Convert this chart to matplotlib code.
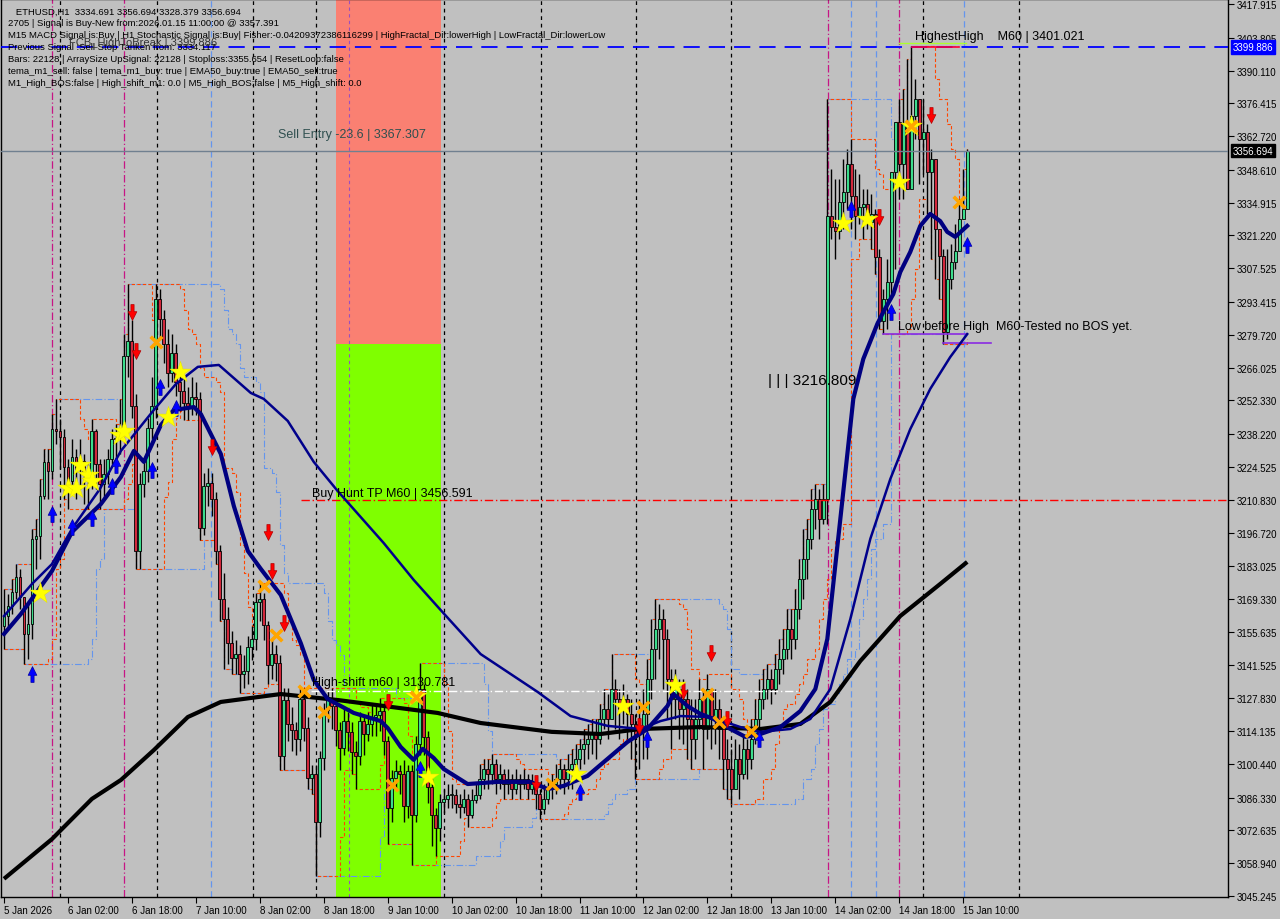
import numpy as np
import matplotlib
matplotlib.use('Agg')
import matplotlib.pyplot as plt
from matplotlib.path import Path
import matplotlib.transforms as mtransforms

# ---------------- data ----------------
open0 = 3158.0
closes = [3162.2,3166.4,3172.2,3178.5,3170.2,3154.7,3158.9,3194.4,3195.6,3212.4,
 3226.6,3222.8,3240.3,3239.5,3237.0,3224.5,3218.6,3228.6,3223.6,3227.0,
 3221.5,3219.5,3239.5,3225.7,3217.4,3221.5,3227.8,3236.2,3236.2,3240.3,
 3270.8,3277.1,3250.0,3189.4,3217.4,3222.8,3240.8,3250.0,3294.7,3286.3,
 3275.9,3263.7,3272.1,3260.0,3256.2,3251.2,3250.0,3253.7,3252.9,3199.0,
 3216.5,3217.8,3211.1,3189.4,3169.3,3161.0,3150.9,3144.7,3146.3,3138.0,
 3139.2,3149.3,3152.6,3168.1,3169.3,3158.5,3141.7,3146.3,3142.6,3103.7,
 3127.1,3117.1,3114.6,3110.8,3127.5,3115.4,3094.5,3096.2,3076.2,3102.9,
 3122.9,3127.5,3124.6,3114.6,3107.1,3118.3,3113.8,3105.4,3103.7,3118.3,
 3112.9,3117.1,3120.0,3120.8,3122.5,3110.0,3082.0,3094.5,3097.5,3096.2,
 3082.8,3097.5,3079.1,3108.7,3131.7,3111.7,3090.8,3079.1,3073.6,3084.5,
 3085.8,3087.4,3087.4,3083.7,3082.4,3085.8,3079.1,3085.3,3087.4,3094.1,
 3098.3,3096.2,3100.4,3094.1,3096.2,3092.0,3094.1,3089.9,3094.1,3092.0,
 3094.1,3089.9,3092.0,3087.9,3081.6,3085.8,3089.9,3092.0,3094.1,3098.3,
 3094.1,3098.3,3100.4,3102.5,3106.7,3108.7,3110.8,3112.9,3110.8,3119.2,
 3123.4,3119.2,3131.7,3127.5,3123.4,3127.5,3121.3,3117.1,3112.9,3115.0,
 3121.3,3135.9,3148.4,3156.8,3161.0,3152.6,3135.9,3127.5,3131.7,3123.4,
 3127.5,3119.2,3110.8,3119.2,3127.5,3115.0,3131.7,3119.2,3123.4,3115.0,
 3102.5,3098.3,3089.9,3102.5,3096.2,3106.7,3102.5,3110.8,3119.2,3127.5,
 3131.7,3135.9,3131.7,3140.1,3144.3,3148.4,3156.8,3152.6,3165.1,3177.7,
 3186.0,3194.4,3206.9,3211.1,3202.7,3211.1,3329.3,3324.7,3323.1,3335.2,
 3339.4,3351.1,3337.7,3329.3,3333.1,3334.4,3326.8,3330.2,3312.2,3285.5,
 3294.7,3301.8,3347.7,3368.6,3351.1,3367.8,3340.6,3371.1,3378.2,3361.5,
 3364.4,3347.7,3353.2,3323.9,3312.6,3280.9,3303.0,3310.1,3314.7,3328.1,
 3332.3,3356.7]
highs = [3173.5,3171.4,3177.7,3183.9,3181.9,3169.3,3167.2,3198.6,3202.7,3219.5,
 3232.0,3232.0,3246.6,3252.9,3244.5,3240.3,3227.8,3236.2,3232.0,3236.2,
 3229.9,3225.7,3244.5,3240.3,3227.8,3227.8,3232.0,3240.3,3242.4,3252.9,
 3280.0,3300.9,3286.0,3255.0,3222.0,3228.0,3245.0,3262.0,3300.9,3298.8,
 3290.0,3282.0,3280.0,3276.0,3266.0,3262.0,3258.0,3262.0,3260.0,3256.0,
 3222.0,3224.0,3222.0,3214.0,3192.0,3180.0,3166.0,3156.0,3152.0,3150.0,
 3146.0,3154.0,3158.0,3172.0,3176.0,3172.0,3160.0,3152.0,3150.0,3146.0,
 3132.0,3132.0,3124.0,3118.0,3132.0,3132.0,3120.0,3100.0,3100.0,3106.0,
 3126.0,3131.0,3132.0,3126.0,3118.0,3124.0,3122.0,3118.0,3110.0,3122.0,
 3120.0,3122.0,3126.0,3126.0,3128.0,3126.0,3112.0,3098.0,3102.0,3100.0,
 3102.0,3100.0,3100.0,3112.0,3142.6,3134.0,3114.0,3094.0,3082.0,3088.0,
 3090.0,3092.0,3092.0,3090.0,3088.0,3090.0,3088.0,3090.0,3092.0,3100.4,
 3102.5,3102.5,3104.6,3102.5,3100.4,3098.3,3098.3,3096.2,3098.3,3096.2,
 3098.3,3096.2,3096.2,3094.1,3089.9,3092.0,3094.1,3096.2,3100.4,3102.5,
 3100.4,3104.6,3106.7,3108.7,3110.8,3115.0,3117.1,3119.2,3119.2,3125.5,
 3131.7,3129.6,3146.3,3135.9,3131.7,3133.8,3129.6,3127.5,3121.3,3127.5,
 3131.7,3144.3,3161.0,3169.3,3167.2,3165.1,3156.8,3140.1,3140.1,3135.9,
 3135.9,3131.7,3127.5,3127.5,3135.9,3131.7,3138.0,3131.7,3131.7,3127.5,
 3119.2,3110.8,3106.7,3110.8,3108.7,3112.9,3110.8,3119.2,3127.5,3135.9,
 3140.1,3142.2,3140.1,3146.3,3152.6,3156.8,3165.1,3165.1,3173.5,3186.0,
 3198.6,3202.7,3215.3,3217.4,3215.3,3217.4,3378.2,3349.0,3344.8,3344.8,
 3353.2,3357.3,3361.5,3349.0,3346.9,3340.6,3340.6,3338.5,3332.3,3315.5,
 3298.8,3311.4,3319.7,3361.5,3378.2,3382.4,3394.9,3400.4,3386.6,3374.0,
 3378.2,3367.8,3357.3,3353.2,3323.9,3315.5,3315.5,3317.6,3326.0,3336.4,
 3349.0,3357.3]
lows = [3148.4,3156.8,3163.1,3169.3,3165.1,3142.2,3144.3,3152.6,3181.9,3186.0,
 3211.1,3211.1,3219.5,3234.1,3223.6,3211.1,3206.9,3215.3,3211.1,3215.3,
 3209.0,3206.9,3215.3,3215.3,3206.9,3211.1,3217.4,3225.7,3227.8,3229.9,
 3255.0,3262.0,3245.0,3181.9,3181.9,3212.0,3218.0,3236.0,3245.0,3278.0,
 3268.0,3258.0,3260.0,3254.0,3248.0,3244.0,3244.0,3246.0,3246.0,3194.0,
 3196.0,3208.0,3204.0,3184.0,3160.0,3140.0,3142.0,3138.0,3138.0,3130.0,
 3132.0,3134.0,3144.0,3148.0,3160.0,3152.0,3134.0,3136.0,3135.0,3098.0,
 3098.0,3110.0,3106.0,3104.0,3106.0,3110.0,3090.0,3088.0,3053.6,3070.0,
 3098.0,3118.0,3115.0,3108.0,3098.0,3104.0,3106.0,3096.0,3090.0,3100.0,
 3104.0,3110.0,3112.0,3112.0,3114.0,3104.0,3067.0,3076.0,3090.0,3088.0,
 3076.0,3078.0,3058.2,3076.0,3104.0,3104.0,3084.0,3066.0,3062.0,3068.0,
 3080.0,3082.0,3082.0,3080.0,3078.0,3080.0,3074.0,3078.0,3084.0,3085.8,
 3089.9,3089.9,3092.0,3087.9,3089.9,3085.8,3087.9,3085.8,3087.9,3085.8,
 3089.9,3085.8,3087.9,3081.6,3077.4,3079.5,3083.7,3085.8,3087.9,3089.9,
 3087.9,3089.9,3089.9,3094.1,3098.3,3100.4,3102.5,3104.6,3102.5,3108.7,
 3115.0,3110.8,3119.2,3115.0,3110.8,3117.1,3110.8,3102.5,3094.1,3098.3,
 3102.5,3102.5,3127.5,3135.9,3144.3,3131.7,3119.2,3106.7,3119.2,3110.8,
 3108.7,3102.5,3098.3,3102.5,3115.0,3098.3,3110.8,3106.7,3108.7,3102.5,
 3089.9,3085.8,3083.7,3089.9,3085.8,3094.1,3094.1,3098.3,3108.7,3115.0,
 3123.4,3127.5,3125.4,3129.6,3133.8,3138.0,3144.3,3144.3,3148.4,3161.0,
 3169.3,3177.7,3190.2,3198.6,3194.4,3200.7,3200.7,3319.7,3311.4,3319.7,
 3323.9,3332.3,3323.9,3319.7,3326.0,3319.7,3323.9,3315.5,3304.9,3282.1,
 3280.0,3282.1,3294.7,3307.2,3336.4,3336.4,3340.6,3365.7,3361.5,3342.7,
 3346.9,3330.2,3311.4,3303.0,3294.7,3275.9,3278.0,3298.8,3307.2,3319.7,
 3328.1,3336.4]

# fast moving average (bar index, value)
fast_ma_bars = [0,4.25,12,17,24.25,29.25,32.5,35,39.25,42.5,47.5,49.25,54.25,57.5,61,64.25,
                69.25,74.25,77.5,81,87.5,94.25,96,99.25,102.5,104.75,107.5,110,116,123.5,
                131.75,136,140,146,151,156,161,166,167.5,171,174.25,177.5,181.75,185.5,
                189.25,194.25,199.25,203,206,209.25,212.5,215,218.5,220,222.5,224.25,
                226.75,229.25,231.75,234.25,236,238,241]
fast_ma_vals = [3154.7,3163.1,3181.0,3197.3,3209.0,3220.3,3231.2,3226.6,3242.0,3248.3,3249.5,
                3246.6,3229.9,3208.2,3189.4,3181.9,3171.0,3150.9,3135.5,3127.5,3121.7,3118.3,
                3115.4,3107.5,3102.1,3106.7,3102.9,3098.3,3092.0,3092.9,3092.9,3089.9,3091.2,
                3095.4,3102.5,3109.6,3115.0,3124.6,3129.6,3124.6,3121.3,3119.2,3115.0,3111.7,
                3112.9,3115.8,3122.5,3131.7,3152.6,3202.7,3252.9,3269.6,3284.2,3289.2,3296.7,
                3305.9,3314.3,3325.2,3330.2,3327.2,3322.7,3320.6,3325.2]
# slow moving average (bar index, value)
slow_ma_bars = [0,7,12,17,24,29.25,37.5,43,48.5,53.75,61.75,65,71,77.5,83.5,95,102.5,109.25,
                119.25,133.5,141.75,151,159.25,164.25,169.25,176.75,184.25,189.25,196.75,
                201.75,206.75,211.75,216.75,221.75,226.75,231.75,236.75,241]
slow_ma_vals = [3162.2,3175.6,3183.9,3198.6,3215.3,3231.2,3248.3,3259.1,3266.3,3267.1,3255.4,
                3252.9,3243.7,3226.6,3214.4,3192.7,3177.3,3164.7,3146.3,3130.5,3120.4,3116.3,
                3115.0,3118.3,3120.4,3120.0,3115.8,3113.8,3115.0,3119.2,3131.7,3160.9,3194.4,
                3219.4,3240.3,3257.1,3270.4,3280.0]
# long moving average (bar index, value)
long_ma_bars = [0,12,22,29.25,37.5,46,54.25,69.25,83.5,108.5,119.25,137,149.25,159.25,174.25,
                189.25,199.25,206.75,214.25,224.25,234.25,241]
long_ma_vals = [3052.4,3069.0,3085.8,3093.7,3106.2,3120.0,3126.3,3129.6,3127.1,3121.7,3117.5,
                3113.8,3112.9,3115.0,3115.8,3115.0,3117.1,3126.3,3143.4,3162.2,3175.6,3184.8]

# signals
sell_arrow_bars = [32,33,52,66,67,70,96,133,159,170,177,181,219,232]
sell_arrow_px = [3289.2,3272.9,3232.8,3197.3,3181.0,3159.3,3126.3,3092.4,3116.3,3130.9,3146.8,3119.2,3328.9,3371.5]
buy_arrow_bars = [7,12,17,22,27,28,37,39,43,104,144,161,189,212,222,241]
buy_arrow_px = [3138.0,3204.8,3199.4,3203.2,3216.5,3225.3,3223.2,3257.9,3249.1,3098.3,3088.7,3110.8,3110.8,3332.3,3289.2,3317.2]
star_bars = [9,16,18,19,21,22,29,30,41,44,103,106,143,155,168,210,216,224,227]
star_px = [3171.8,3215.7,3215.7,3225.3,3221.1,3218.6,3237.8,3239.5,3245.4,3264.1,3128.8,3095.0,
           3096.2,3124.6,3133.4,3326.4,3328.1,3343.5,3366.9]
cross_bars = [38,65,68,75,80,97,103,137,160,176,179,187,227,239]
cross_px = [3276.7,3174.7,3154.3,3130.9,3122.1,3091.6,3128.4,3092.0,3124.3,3129.7,3118.0,3114.3,3366.9,3335.2]

# levels
fcb_high = 3399.886
last_price = 3356.694
buy_tp_line = 3210.7
high_shift = 3130.781
highest_high = 3401.021
low_before_high = [3280.0, 3276.3]
zone_start, zone_end, zone_split = 83.0, 109.25, 3276.0

# time axis
x_labels = ['5 Jan 2026','6 Jan 02:00','6 Jan 18:00','7 Jan 10:00','8 Jan 02:00','8 Jan 18:00',
            '9 Jan 10:00','10 Jan 02:00','10 Jan 18:00','11 Jan 10:00','12 Jan 02:00',
            '12 Jan 18:00','13 Jan 10:00','14 Jan 02:00','14 Jan 18:00','15 Jan 10:00']
x_label_bars = list(range(0, 241, 16))
y_ticks = [3417.915,3403.805,3390.110,3376.415,3362.720,3348.610,3334.915,3321.220,3307.525,
           3293.415,3279.720,3266.025,3252.330,3238.220,3224.525,3210.830,3196.720,3183.025,
           3169.330,3155.635,3141.525,3127.830,3114.135,3100.440,3086.330,3072.635,3058.940,3045.245]

vlines_black = [14,38.25,62.25,78,110,134.25,158.25,182,230,254]
vlines_magenta = [12,30,206.25,224]
vlines_purple = [86.25]
vlines_blue = [51.75,212,218.25,240.25]

info_lines = [
    "   ETHUSD,H1  3334.691 3356.694 3328.379 3356.694",
    "2705 | Signal is Buy-New from:2026.01.15 11:00:00 @ 3357.391",
    "M15 MACD Signal is:Buy | H1 Stochastic Signal is:Buy| Fisher:-0.04209372386116299 | HighFractal_Dir:lowerHigh | LowFractal_Dir:lowerLow",
    "Previous Signal :Sell Stop Tanken from: 3334.117",
    "Bars: 22128 | ArraySize UpSignal: 22128 | Stoploss:3355.654 | ResetLoop:false",
    "tema_m1_sell: false | tema_m1_buy: true | EMA50_buy:true | EMA50_sell:true",
    "M1_High_BOS:false | High_shift_m1: 0.0 | M5_High_BOS:false | M5_High_shift: 0.0",
]

# ---------------- figure ----------------
W, H = 1280, 920
PW, PH = 1228, 898
BG = '#C0C0C0'
fig = plt.figure(figsize=(W/100, H/100), dpi=100, facecolor=BG)
ax = fig.add_axes([1/W, (H-PH)/H, (PW-1)/W, PH/H])
ax.set_facecolor(BG)
ax.set_xlim(-0.75, 306.25)
ax.set_ylim(3044.8, 3420.0)
FONT = 'Liberation Sans'

closes = np.array(closes); highs = np.array(highs); lows = np.array(lows)
opens = np.r_[open0, closes[:-1]]
highs = np.maximum(highs, np.maximum(opens, closes))
lows = np.minimum(lows, np.minimum(opens, closes))
idx = np.arange(len(closes))

# zones
ax.fill_between([zone_start, zone_end], zone_split, 3420.0, color='#FA8072', lw=0, zorder=0.5)
ax.fill_between([zone_start, zone_end], 3044.8, zone_split, color='#7FFF00', lw=0, zorder=0.5)

# vertical lines
for v in vlines_black:
    ax.axvline(v, color='black', lw=0.9, ls=(0, (3, 3)), zorder=1)
for v in vlines_magenta:
    ax.axvline(v, color='#C71585', lw=0.9, ls=(0, (6, 2, 1, 2)), zorder=1)
for v in vlines_purple:
    ax.axvline(v, color='#9A4FC0', lw=0.8, ls=(0, (3, 3)), zorder=1)
for v in vlines_blue:
    ax.axvline(v, color='#6495ED', lw=0.9, ls=(0, (5, 3)), zorder=1)

# stepped channels derived from highs / lows
def rolling(a, n, fn):
    return np.array([fn(a[max(0, k-n+1):k+1]) for k in range(len(a))])
up_ch = rolling(highs, 16, np.max)
dn_ch = rolling(lows, 16, np.min)
up_ch2 = rolling(highs, 6, np.max)
dn_ch2 = rolling(lows, 6, np.min)
ax.step(idx, up_ch, where='post', color='#6495ED', lw=0.8, ls=(0, (6, 2, 1, 2)), zorder=1.5)
ax.step(idx, dn_ch, where='post', color='#6495ED', lw=0.8, ls=(0, (6, 2, 1, 2)), zorder=1.5)
ax.step(idx, up_ch2, where='post', color='#FF4500', lw=0.8, ls=(0, (3, 2)), zorder=1.5)
ax.step(idx, dn_ch2, where='post', color='#FF4500', lw=0.8, ls=(0, (3, 2)), zorder=1.5)

# horizontal levels
ax.axhline(fcb_high, color='#0000FF', lw=1.3, ls=(0, (9, 5)), zorder=3.5)
ax.axhline(last_price, color='#708090', lw=1.0, zorder=3.5)
ax.plot([74.25, 306.25], [buy_tp_line]*2, color='#FF0000', lw=1.0, ls=(0, (6, 2, 1, 2)), zorder=3.5)
ax.plot([76.75, 199.25], [high_shift]*2, color='white', lw=1.0, ls=(0, (6, 2, 1, 2)), zorder=3.5)
ax.plot([224, 240.75], [highest_high + 0.4]*2, color='#ADFF2F', lw=1.0, zorder=3.5)
ax.plot([227.25, 239], [highest_high - 0.9]*2, color='#FF0033', lw=1.2, zorder=3.5)
ax.plot([220, 241], [low_before_high[0]]*2, color='#8A2BE2', lw=1.2, zorder=3.5)
ax.plot([235, 247], [low_before_high[1]]*2, color='#8A2BE2', lw=1.2, zorder=3.5)

# candles
ax.vlines(idx, lows, highs, color='black', lw=1.0, zorder=2)
up = closes >= opens
body_h = np.where(np.abs(closes-opens) < 0.3, 0.3, closes-opens)
ax.bar(idx[up], body_h[up], bottom=opens[up], width=0.72, color='#3CDC8C',
       edgecolor='black', lw=0.6, zorder=2.5)
ax.bar(idx[~up], body_h[~up], bottom=opens[~up], width=0.72, color='#D2283C',
       edgecolor='black', lw=0.6, zorder=2.5)

# moving averages
ax.plot(long_ma_bars, long_ma_vals, color='black', lw=3.0, zorder=4, solid_capstyle='butt')
ax.plot(slow_ma_bars, slow_ma_vals, color='#00008B', lw=1.8, zorder=4)
ax.plot(fast_ma_bars, fast_ma_vals, color='#000080', lw=3.0, zorder=4.1)

# markers
down_path = Path([(-0.2, 1), (0.2, 1), (0.2, 0.1), (0.55, 0.1), (0, -1), (-0.55, 0.1), (-0.2, 0.1), (-0.2, 1)],
                 [Path.MOVETO] + [Path.LINETO]*6 + [Path.CLOSEPOLY])
up_path = Path([(x, -y) for x, y in down_path.vertices], down_path.codes)
ax.scatter(sell_arrow_bars, sell_arrow_px, marker=down_path, s=130, color='#FF0000',
           edgecolor='#B00000', lw=0.5, zorder=5)
ax.scatter(buy_arrow_bars, buy_arrow_px, marker=up_path, s=130, color='#0000FF',
           edgecolor='#0000A0', lw=0.5, zorder=5)
ax.scatter(star_bars, star_px, marker='*', s=260, color='#FFFF00', edgecolor='#E0E000', lw=0.3, zorder=5)
ax.scatter(cross_bars, cross_px, marker='x', s=70, color='#FFA500', lw=2.6, zorder=5)

# in-chart text
ax.text(68.5, 3363.6, 'Sell Entry -23.6 | 3367.307', fontsize=9, color='#2F4F4F', family=FONT,
        va='center', ha='left', zorder=6)
ax.text(77.0, 3213.8, 'Buy Hunt TP M60 | 3456.591', fontsize=9, color='black', family=FONT,
        va='center', ha='left', zorder=6)
ax.text(77.0, 3134.6, 'High-shift m60 | 3130.781', fontsize=9, color='black', family=FONT,
        va='center', ha='left', zorder=6)
ax.text(228.0, 3404.6, 'HighestHigh    M60 | 3401.021', fontsize=9, color='black', family=FONT,
        va='center', ha='left', zorder=6)
ax.text(223.75, 3283.4, 'Low before High  M60-Tested no BOS yet.', fontsize=9, color='black',
        family=FONT, va='center', ha='left', zorder=6)
ax.text(191.25, 3260.8, '| | | 3216.809', fontsize=11, color='black', family=FONT,
        va='center', ha='left', zorder=6)

# info block
for k, line in enumerate(info_lines):
    ax.text(7/PW, 1 - (12 + 12*k)/PH, line, transform=ax.transAxes, fontsize=6.8,
            family=FONT, color='black', va='center', ha='left', zorder=7)
ax.text(68/PW, 1 - 43/PH, 'FCB_HighToBreak | 3399.886', transform=ax.transAxes, fontsize=8,
        family=FONT, color='#333333', va='center', ha='left', zorder=7)

# axes styling
for s in ax.spines.values():
    s.set_color('black'); s.set_linewidth(1.0)
ax.yaxis.tick_right()
ax.set_yticks(y_ticks)
ax.set_yticklabels([f'{v:.3f}' for v in y_ticks], fontsize=7, family=FONT)
ax.tick_params(axis='y', direction='out', length=4, pad=2, width=0.8)
ax.set_xticks(x_label_bars)
ax.set_xticklabels(x_labels, fontsize=7, family=FONT)
for t in ax.get_xticklabels():
    t.set_ha('left')
ax.tick_params(axis='x', direction='out', length=4, pad=2, width=0.8)

# price boxes on the right
trans = mtransforms.blended_transform_factory(ax.transAxes, ax.transData)
ax.text(1.004, fcb_high, '3399.886', transform=trans, fontsize=7, family=FONT, color='white',
        va='center', ha='left', zorder=8, clip_on=False,
        bbox=dict(boxstyle='square,pad=0.2', fc='#0000FF', ec='#0000FF'))
ax.text(1.004, last_price, '3356.694', transform=trans, fontsize=7, family=FONT, color='white',
        va='center', ha='left', zorder=8, clip_on=False,
        bbox=dict(boxstyle='square,pad=0.2', fc='black', ec='black'))

fig.savefig('out.png', dpi=100, facecolor=BG)
